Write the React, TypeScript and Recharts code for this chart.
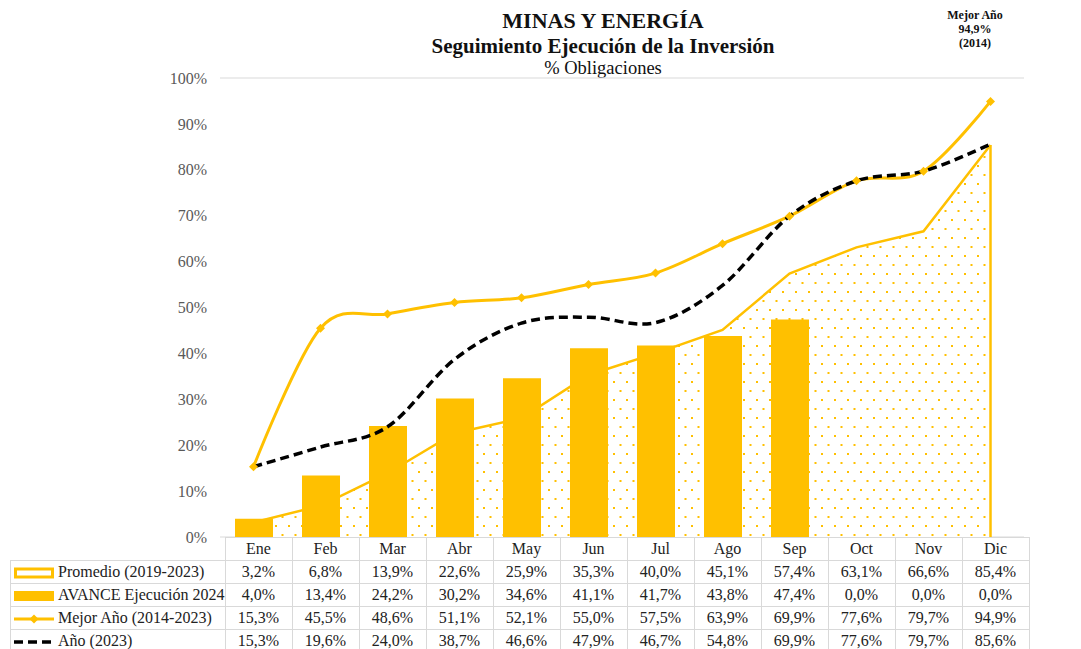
import { Area, Bar, CartesianGrid, ComposedChart, Line, ReferenceLine, XAxis, YAxis } from "recharts"

const months = ["Ene", "Feb", "Mar", "Abr", "May", "Jun", "Jul", "Ago", "Sep", "Oct", "Nov", "Dic"]
const promedio = [3.2, 6.8, 13.9, 22.6, 25.9, 35.3, 40.0, 45.1, 57.4, 63.1, 66.6, 85.4]
const avance = [4.0, 13.4, 24.2, 30.2, 34.6, 41.1, 41.7, 43.8, 47.4, 0.0, 0.0, 0.0]
const mejorAno = [15.3, 45.5, 48.6, 51.1, 52.1, 55.0, 57.5, 63.9, 69.9, 77.6, 79.7, 94.9]
const ano2023 = [15.3, 19.6, 24.0, 38.7, 46.6, 47.9, 46.7, 54.8, 69.9, 77.6, 79.7, 85.6]
const yTicks = [0, 10, 20, 30, 40, 50, 60, 70, 80, 90, 100]

const seriesNames = ["Promedio (2019-2023)", "AVANCE Ejecución 2024", "Mejor Año (2014-2023)", "Año (2023)"]
const seriesValues = [promedio, avance, mejorAno, ano2023]

const data = months.map((m, i) => ({
  name: m,
  promedio: promedio[i],
  avance: avance[i],
  mejor: mejorAno[i],
  ano: ano2023[i],
}))

const YELLOW = "#FFC000"
const FONT = "'Liberation Serif', serif"
const fmt = (v: number) => v.toFixed(1).replace(".", ",") + "%"

// Excel-like smoothing (Catmull-Rom / cardinal with tension 0)
class SmoothCurve {
  _context: any
  _k = 1 / 6
  _line = NaN
  _point = 0
  _x0 = NaN; _x1 = NaN; _x2 = NaN
  _y0 = NaN; _y1 = NaN; _y2 = NaN
  constructor(context: any) {
    this._context = context
  }
  areaStart() { this._line = 0 }
  areaEnd() { this._line = NaN }
  lineStart() {
    this._x0 = this._x1 = this._x2 = this._y0 = this._y1 = this._y2 = NaN
    this._point = 0
  }
  lineEnd() {
    if (this._point === 2) this._context.lineTo(this._x2, this._y2)
    else if (this._point === 3) this.seg(this._x1, this._y1)
    if (this._line || (this._line !== 0 && this._point === 1)) this._context.closePath()
    this._line = 1 - this._line
  }
  seg(x: number, y: number) {
    const k = this._k
    this._context.bezierCurveTo(
      this._x1 + k * (this._x2 - this._x0),
      this._y1 + k * (this._y2 - this._y0),
      this._x2 + k * (this._x1 - x),
      this._y2 + k * (this._y1 - y),
      this._x2,
      this._y2
    )
  }
  point(x: number, y: number) {
    x = +x; y = +y
    switch (this._point) {
      case 0:
        this._point = 1
        this._line ? this._context.lineTo(x, y) : this._context.moveTo(x, y)
        break
      case 1:
        this._point = 2
        this._x1 = x; this._y1 = y
        break
      case 2:
        this._point = 3
        this.seg(x, y)
        break
      default:
        this.seg(x, y)
        break
    }
    this._x0 = this._x1; this._x1 = this._x2; this._x2 = x
    this._y0 = this._y1; this._y1 = this._y2; this._y2 = y
  }
}
const smooth = (context: any) => new SmoothCurve(context)

const Diamond = (props: any) => {
  const { cx, cy, index } = props
  if (cx == null || cy == null) return <g key={index} />
  const r = 4.5
  return <path key={index} d={`M${cx},${cy - r}L${cx + r},${cy}L${cx},${cy + r}L${cx - r},${cy}Z`} fill={YELLOW} />
}

function LegendKey({ i }: { i: number }) {
  return (
    <svg width={40} height={12} style={{ verticalAlign: "middle", marginRight: 4 }}>
      {i === 0 && (
        <>
          <rect x={1.5} y={2} width={37} height={8} fill="#fff" stroke={YELLOW} strokeWidth={3} />
          <line x1={5} y1={6} x2={35} y2={6} stroke="#fff" strokeWidth={1} />
        </>
      )}
      {i === 1 && <rect x={0} y={1} width={40} height={10} fill={YELLOW} />}
      {i === 2 && (
        <>
          <line x1={0} y1={6} x2={40} y2={6} stroke={YELLOW} strokeWidth={3} />
          <path d="M20,1.5L24.5,6L20,10.5L15.5,6Z" fill={YELLOW} />
        </>
      )}
      {i === 3 && <line x1={0} y1={6} x2={40} y2={6} stroke="#000" strokeWidth={3.5} strokeDasharray="9 5" />}
    </svg>
  )
}

const cell: React.CSSProperties = {
  border: "1px solid #d9d9d9",
  height: 22,
  padding: 0,
  textAlign: "center",
  fontSize: 16,
  color: "#222",
  whiteSpace: "nowrap",
}

export default function App() {
  return (
    <div style={{ position: "absolute", left: 0, top: 0, width: 1081, height: 649, overflow: "hidden", background: "#fff", fontFamily: FONT }}>
      <div style={{ position: "absolute", left: 403, width: 400, top: 7, textAlign: "center", color: "#111" }}>
        <div style={{ fontWeight: "bold", fontSize: 22, lineHeight: "27px" }}>MINAS Y ENERGÍA</div>
        <div style={{ fontWeight: "bold", fontSize: 21, lineHeight: "24px" }}>Seguimiento Ejecución de la Inversión</div>
        <div style={{ fontSize: 18.5, lineHeight: "21px" }}>% Obligaciones</div>
      </div>
      <div style={{ position: "absolute", left: 925, width: 100, top: 8, textAlign: "center", fontWeight: "bold", fontSize: 12, lineHeight: "14px", color: "#111" }}>
        <div>Mejor Año</div>
        <div>94,9%</div>
        <div>(2014)</div>
      </div>
      <div style={{ position: "absolute", left: 0, top: 0 }}>
        <ComposedChart width={1081} height={649} data={data} margin={{ top: 78, right: 0, bottom: 112, left: 160 }}>
          <defs>
            <pattern id="dots" width={13} height={18} patternUnits="userSpaceOnUse">
              <rect width={13} height={18} fill="#fff" />
              <rect x={2} y={3} width={2} height={2} fill={YELLOW} />
              <rect x={8.5} y={12} width={2} height={2} fill={YELLOW} />
            </pattern>
          </defs>
          <CartesianGrid vertical={false} stroke="#d9d9d9" />
          <XAxis dataKey="name" hide />
          <YAxis
            yAxisId="left"
            domain={[0, 100]}
            ticks={yTicks}
            width={60}
            tickFormatter={(v) => v + "%"}
            axisLine={false}
            tickLine={false}
            tickMargin={7}
            tick={{ fontSize: 16, fill: "#595959", fontFamily: FONT }}
          />
          <YAxis
            yAxisId="right"
            orientation="right"
            domain={[0, 100]}
            ticks={yTicks}
            width={57}
            tickFormatter={(v) => v + "%"}
            axisLine={false}
            tickLine={false}
            tickMargin={16}
            tick={{ fontSize: 16, fill: "#595959", fontFamily: FONT, textAnchor: "start" }}
          />
          <Area
            yAxisId="left"
            type="linear"
            dataKey="promedio"
            fill="url(#dots)"
            fillOpacity={1}
            stroke={YELLOW}
            strokeWidth={2.5}
            isAnimationActive={false}
          />
          <ReferenceLine
            yAxisId="left"
            segment={[{ x: months[11], y: 0 }, { x: months[11], y: promedio[11] }]}
            stroke={YELLOW}
            strokeWidth={2.5}
          />
          <Bar yAxisId="left" dataKey="avance" fill={YELLOW} barSize={38} isAnimationActive={false} />
          <Line
            yAxisId="left"
            type={smooth as any}
            dataKey="mejor"
            stroke={YELLOW}
            strokeWidth={3}
            dot={<Diamond />}
            activeDot={false}
            isAnimationActive={false}
          />
          <Line
            yAxisId="left"
            type={smooth as any}
            dataKey="ano"
            stroke="#000"
            strokeWidth={3.5}
            strokeDasharray="9 5"
            dot={false}
            activeDot={false}
            isAnimationActive={false}
          />
        </ComposedChart>
      </div>
      <table style={{ position: "absolute", left: 10, top: 537, borderCollapse: "collapse", tableLayout: "fixed", fontFamily: FONT }}>
        <colgroup>
          <col style={{ width: 210 }} />
          {months.map((m) => (
            <col key={m} style={{ width: 67 }} />
          ))}
        </colgroup>
        <tbody>
          <tr>
            <td style={{ ...cell, border: "none", borderBottom: "1px solid #d9d9d9" }} />
            {months.map((m) => (
              <td key={m} style={cell}>{m}</td>
            ))}
          </tr>
          {seriesNames.map((name, i) => (
            <tr key={name}>
              <td style={{ ...cell, textAlign: "left", paddingLeft: 3 }}>
                <LegendKey i={i} />
                {name}
              </td>
              {seriesValues[i].map((v, j) => (
                <td key={j} style={cell}>{fmt(v)}</td>
              ))}
            </tr>
          ))}
        </tbody>
      </table>
    </div>
  )
}
